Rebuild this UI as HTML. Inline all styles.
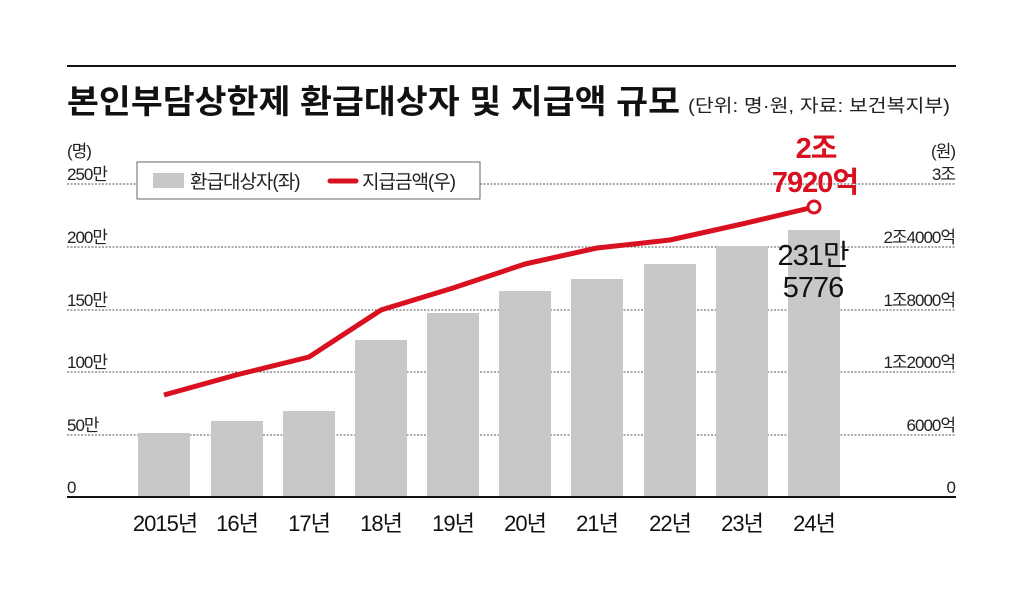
<!DOCTYPE html>
<html><head><meta charset="utf-8"><style>
body{margin:0;background:#fff;}
svg text{font-family:"Liberation Sans","Noto Sans CJK KR",sans-serif;}
</style></head><body>
<svg width="1024" height="606" viewBox="0 0 1024 606" xmlns="http://www.w3.org/2000/svg">
<rect width="1024" height="606" fill="#fff"/>
<line x1="67" y1="66" x2="956" y2="66" stroke="#111" stroke-width="2"/>
<text x="67" y="113" font-size="33" font-weight="bold" fill="#111" textLength="613" lengthAdjust="spacingAndGlyphs">본인부담상한제 환급대상자 및 지급액 규모</text>
<text x="688" y="112" font-size="18" fill="#222" textLength="262" lengthAdjust="spacingAndGlyphs">(단위: 명·원, 자료: 보건복지부)</text>
<g stroke="#555" stroke-width="1" stroke-dasharray="2,1.5">
<line x1="67" y1="184" x2="956" y2="184"/>
<line x1="67" y1="247" x2="956" y2="247"/>
<line x1="67" y1="310" x2="956" y2="310"/>
<line x1="67" y1="372" x2="956" y2="372"/>
<line x1="67" y1="435" x2="956" y2="435"/>
</g>
<g font-size="17" fill="#222" letter-spacing="-1">
<text x="67" y="157">(명)</text>
<text x="67" y="180">250만</text>
<text x="67" y="243">200만</text>
<text x="67" y="306">150만</text>
<text x="67" y="368">100만</text>
<text x="67" y="431">50만</text>
<text x="67" y="493">0</text>
<g text-anchor="end">
<text x="955" y="157">(원)</text>
<text x="955" y="180">3조</text>
<text x="955" y="243">2조4000억</text>
<text x="955" y="306">1조8000억</text>
<text x="955" y="368">1조2000억</text>
<text x="955" y="431">6000억</text>
<text x="955" y="493">0</text>
</g></g>
<g fill="#c8c8ca">
<rect x="138" y="433" width="52" height="64"/>
<rect x="211" y="421" width="52" height="76"/>
<rect x="283" y="411" width="52" height="86"/>
<rect x="355" y="340" width="52" height="157"/>
<rect x="427" y="313" width="52" height="184"/>
<rect x="499" y="291" width="52" height="206"/>
<rect x="571" y="279" width="52" height="218"/>
<rect x="644" y="264" width="52" height="233"/>
<rect x="716" y="246" width="52" height="251"/>
<rect x="788" y="230" width="52" height="267"/>
</g>
<line x1="67" y1="497" x2="956" y2="497" stroke="#111" stroke-width="2"/>
<rect x="137" y="162" width="343" height="37" fill="#fff" stroke="#666" stroke-width="1"/>
<rect x="153" y="173" width="31" height="15" fill="#c8c8ca"/>
<text x="190" y="188" font-size="19" fill="#222" letter-spacing="-1">환급대상자(좌)</text>
<line x1="330" y1="181" x2="356" y2="181" stroke="#d8101f" stroke-width="5" stroke-linecap="round"/>
<text x="362" y="188" font-size="19" fill="#222" letter-spacing="-1">지급금액(우)</text>
<polyline points="164,395 236,375 309,357 381,310 453,288 525,264 597,248 670,240 742,224 814,207" fill="none" stroke="#d8101f" stroke-width="5" stroke-linejoin="round"/>
<circle cx="814" cy="207" r="6" fill="#fff" stroke="#d8101f" stroke-width="3"/>
<g font-size="29" fill="#d8101f" text-anchor="middle" font-weight="bold" letter-spacing="-1">
<text x="816" y="158">2조</text>
<text x="815" y="192">7920억</text>
</g>
<g font-size="29" fill="#111" text-anchor="middle" letter-spacing="-1">
<text x="813" y="265">231만</text>
<text x="813" y="297">5776</text>
</g>
<g font-size="22" fill="#111" text-anchor="middle" letter-spacing="-1">
<text x="165" y="531">2015년</text>
<text x="237" y="531">16년</text>
<text x="309" y="531">17년</text>
<text x="381" y="531">18년</text>
<text x="453" y="531">19년</text>
<text x="525" y="531">20년</text>
<text x="597" y="531">21년</text>
<text x="670" y="531">22년</text>
<text x="742" y="531">23년</text>
<text x="814" y="531">24년</text>
</g>
</svg>
</body></html>
